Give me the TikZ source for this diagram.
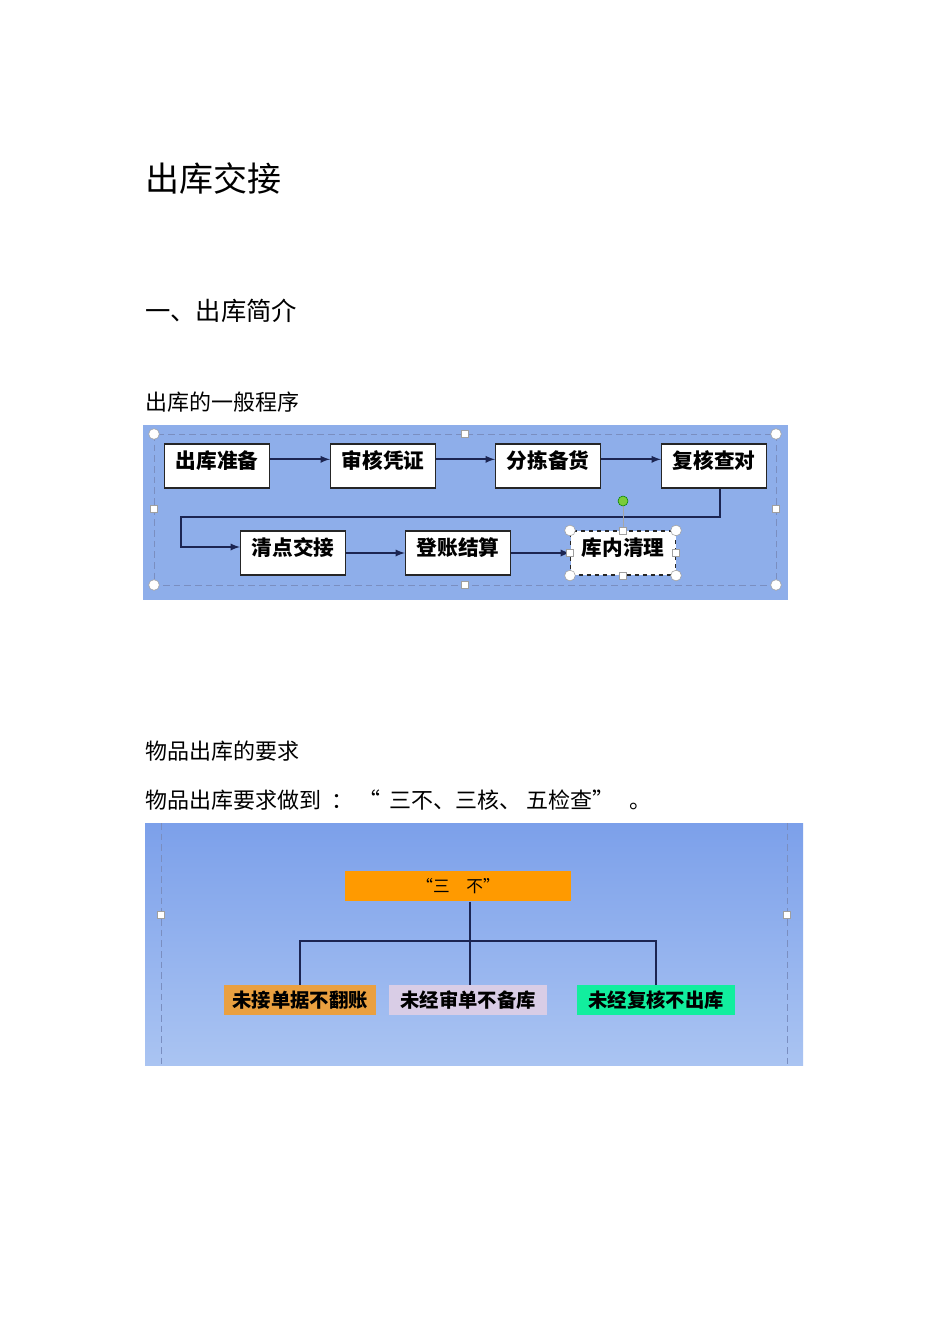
\documentclass[tikz,border=0pt]{standalone}
\usepackage{fontspec}
\setmainfont{Noto Sans CJK SC}
\usetikzlibrary{arrows}
\definecolor{panelblue}{HTML}{8EAEEA}
\definecolor{shadetop}{HTML}{7CA0EA}
\definecolor{shadebot}{HTML}{AAC4F2}
\definecolor{linkblue}{HTML}{1C2552}
\definecolor{dashgray}{HTML}{7A8EC0}
\definecolor{tipgreen}{HTML}{7ACC3A}
\definecolor{boxorange}{HTML}{FF9A00}
\definecolor{leftorange}{HTML}{EAA040}
\definecolor{lavender}{HTML}{D9CDE6}
\definecolor{mint}{HTML}{12EE9E}
\tikzset{
  procbox/.style={draw=black!85, fill=white, line width=0.8pt,
    minimum width=78.75pt, minimum height=33pt,
    font=\bfseries\fontsize{15.5}{16}\selectfont, text height=12pt, text depth=9pt},
  flow/.style={->, draw=linkblue, line width=1.4pt},
  selcirc/.style={circle, draw=gray!75, fill=white, inner sep=0pt, minimum size=8pt},
  selsq/.style={rectangle, draw=gray!75, fill=white, inner sep=0pt, minimum size=5.5pt},
  leafbox/.style={minimum height=22.5pt, inner sep=2pt,
    font=\bfseries\fontsize{14.5}{15}\selectfont},
  treeline/.style={draw=linkblue, line width=1pt},
  seldash/.style={draw=dashgray, line width=0.6pt, dash pattern=on 5pt off 3pt}
}
\begin{document}
\begin{tikzpicture}[>=latex, x=0.75pt, y=-0.75pt]
  \useasboundingbox (0,0) rectangle (950,1344);
  \fill[white] (0,0) rectangle (950,1344);

  % headings
  \node[anchor=west, inner sep=0pt, font=\fontsize{25.5}{27}\selectfont] (title) at (145,179) {出库交接};
  \node[anchor=west, inner sep=0pt, font=\fontsize{19}{21}\selectfont] (sec) at (145,311) {一、出库简介};
  \node[anchor=west, inner sep=0pt, font=\fontsize{16.5}{18}\selectfont] (prog) at (145,402) {出库的一般程序};

  % first screenshot: the procedure
  \fill[panelblue] (143,425) rectangle (788,600);
  \draw[seldash] (154,434) rectangle (776,585);

  \node[procbox] (zb) at (217,466) {出库准备};
  \node[procbox] (sh) at (383,466) {审核凭证};
  \node[procbox] (fj) at (548,466) {分拣备货};
  \node[procbox] (fh) at (714,466) {复核查对};
  \node[procbox] (qd) at (293,553) {清点交接};
  \node[procbox] (dz) at (458,553) {登账结算};
  \node[procbox, dashed] (kn) at (623,553) {库内清理};

  \coordinate (turn) at (181,517);
  \draw[flow] ([yshift=5pt]zb.east) -- ([yshift=5pt]sh.west);
  \draw[flow] ([yshift=5pt]sh.east) -- ([yshift=5pt]fj.west);
  \draw[flow] ([yshift=5pt]fj.east) -- ([yshift=5pt]fh.west);
  \draw[flow] ([xshift=4.5pt]fh.south) |- (turn) |- ([yshift=4.5pt]qd.west);
  \draw[flow] (qd.east) -- (dz.west);
  \draw[flow] (dz.east) -- (kn.west);

  % selection handles
  \draw[gray!70, line width=0.5pt] (kn.north) -- (623,506);
  \node[circle, draw=green!50!black, fill=tipgreen, inner sep=0pt, minimum size=7.5pt] (rot) at (623,501) {};
  \foreach \p [count=\i] in {kn.north west, kn.north east, kn.south west, kn.south east}
    \node[selcirc] (kc\i) at (\p) {};
  \foreach \p [count=\i] in {kn.north, kn.south, kn.west, kn.east}
    \node[selsq] (ks\i) at (\p) {};
  \foreach \p [count=\i] in {(154,434), (776,434), (154,585), (776,585)}
    \node[selcirc] (pc\i) at \p {};
  \foreach \p [count=\i] in {(465,434), (154,509), (776,509), (465,585)}
    \node[selsq] (ps\i) at \p {};

  % requirements
  \node[anchor=west, inner sep=0pt, font=\fontsize{16.5}{18}\selectfont] (req) at (145,751) {物品出库的要求};
  \node[anchor=west, inner sep=0pt, font=\fontsize{16.5}{18}\selectfont] (reqline) at (145,800)
    {物品出库要求做到\ \ ：\ “\ \ 三不、三核、\ 五检查”\ \ \ 。};

  % second screenshot: the three "no"s
  \shade[top color=shadetop, bottom color=shadebot] (145,823) rectangle (803,1065);
  \draw[seldash] (161,823) -- (161,1065);
  \draw[seldash] (787,823) -- (787,1065);
  \node[selsq] (ls) at (161,915) {};
  \node[selsq] (rs) at (787,915) {};

  \node[fill=boxorange, minimum width=169.5pt, minimum height=23pt, inner sep=0pt,
    font=\fontsize{12.5}{14}\selectfont] (sanbu) at (458,886) {“三\quad 不”};
  \node[leafbox, fill=leftorange, minimum width=114pt] (wj) at (300,1000) {未接单据不翻账};
  \node[leafbox, fill=lavender, minimum width=118pt] (ws) at (468,1000) {未经审单不备库};
  \node[leafbox, fill=mint, minimum width=118.5pt] (wf) at (656,1000) {未经复核不出库};

  \coordinate (fork) at (470,941);
  \draw[treeline] (sanbu.south -| fork) -- (fork);
  \draw[treeline] (wj.north) |- (fork) -| (wf.north);
  \draw[treeline] (fork) -- (fork |- ws.north);
\end{tikzpicture}
\end{document}
